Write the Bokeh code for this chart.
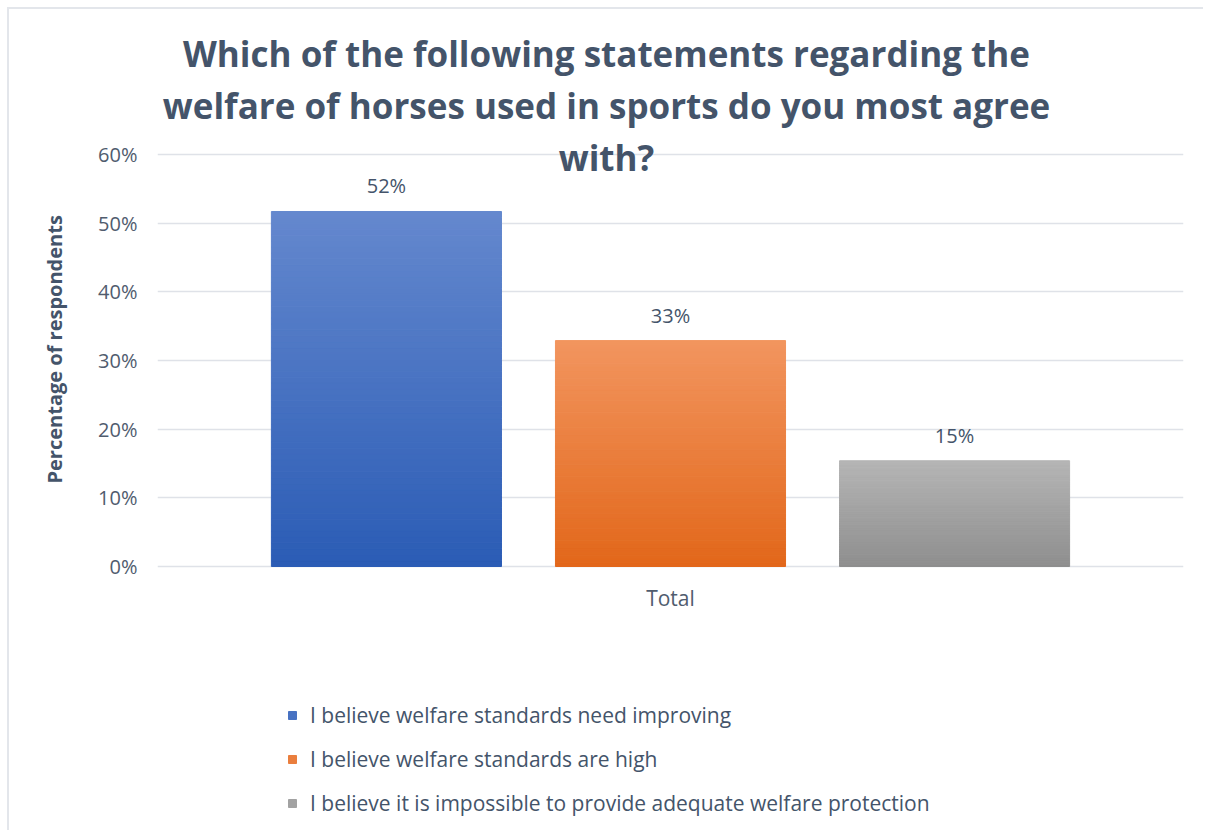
from bokeh.plotting import figure
from bokeh.models import (ColumnDataSource, Range1d, FixedTicker, PrintfTickFormatter,
                          Label, LabelSet, Legend, LegendItem, Title)
from bokeh.core.properties import value
from bokeh.embed import file_html
from bokeh.resources import INLINE

# ---- data ----
series = ["I believe welfare standards need improving",
          "I believe welfare standards are high",
          "I believe it is impossible to provide adequate welfare protection"]
values = [51.7, 32.9, 15.4]          # percentage of respondents
category = "Total"
y_ticks = [0, 10, 20, 30, 40, 50, 60]
title_lines = ["Which of the following statements regarding the",
               "welfare of horses used in sports do you most agree",
               "with?"]
y_label = "Percentage of respondents"

# ---- styles ----
top_colors = ["#6488CE", "#F2955F", "#B5B5B5"]
bottom_colors = ["#2B5CB5", "#E2671A", "#8E8E8E"]
FONT = "Open Sans"
TXT = "#44546A"
TICK = "#505C6E"
N = 60

def hex2rgb(h):
    h = h.lstrip("#")
    return tuple(int(h[i:i + 2], 16) for i in (0, 2, 4))

def mix(c1, c2, t):
    a, b = hex2rgb(c1), hex2rgb(c2)
    return "#%02x%02x%02x" % tuple(round(a[k] + (b[k] - a[k]) * t) for k in range(3))

# the frame covers the full canvas height; 0..60% spans 412px of it
PX = 412 / 60
H = 823
ZERO_FROM_TOP = 557
y_start = -(H - ZERO_FROM_TOP) / PX
y_end = ZERO_FROM_TOP / PX

p = figure(width=1196, height=H, output_backend="svg", toolbar_location=None,
           x_range=Range1d(-0.806, 2.806), y_range=Range1d(y_start, y_end),
           min_border_left=148, min_border_right=22, min_border_top=0,
           min_border_bottom=0)
p.margin = (7, 0, 0, 7)
p.styles = {"border-top": "2px solid #E3E6EB", "border-left": "2px solid #E3E6EB"}
p.outline_line_color = None
p.background_fill_color = "white"
p.border_fill_color = "white"

p.xgrid.visible = False
p.ygrid.grid_line_color = "#DFE2E8"
p.ygrid.grid_line_width = 1.5

# axes
p.yaxis.ticker = FixedTicker(ticks=y_ticks)
p.yaxis.formatter = PrintfTickFormatter(format="%d%%")
p.yaxis.axis_line_color = None
p.yaxis.major_tick_line_color = None
p.yaxis.minor_tick_line_color = None
p.yaxis.major_tick_out = 0
p.yaxis.major_tick_in = 0
p.yaxis.major_label_standoff = 20
p.yaxis.major_label_text_font = FONT
p.yaxis.major_label_text_font_size = "20px"
p.yaxis.major_label_text_color = TICK

p.add_layout(Title(text=y_label, align="left", offset=349, standoff=56,
                   text_font=FONT, text_font_style="bold",
                   text_font_size="20px", text_color=TXT), "left")

p.xaxis.fixed_location = 0
p.xaxis.ticker = FixedTicker(ticks=[1])
p.xaxis.major_label_overrides = {1: category}
p.xaxis.axis_line_color = None
p.xaxis.major_tick_line_color = None
p.xaxis.minor_tick_line_color = None
p.xaxis.major_tick_out = 0
p.xaxis.major_tick_in = 0
p.xaxis.major_label_standoff = 17
p.xaxis.major_label_text_font = FONT
p.xaxis.major_label_text_font_size = "21px"
p.xaxis.major_label_text_color = TICK

# bars with vertical gradient (slices of each bar)
items = []
for i, (name, v) in enumerate(zip(series, values)):
    bottoms = [v * k / N for k in range(N)]
    tops = [v * (k + 1) / N for k in range(N)]
    cols = [mix(bottom_colors[i], top_colors[i], (k + 0.5) / N) for k in range(N)]
    src = ColumnDataSource(dict(x=[i] * N, bottom=bottoms, top=tops, color=cols))
    r = p.vbar(x="x", bottom="bottom", top="top", width=0.81, source=src,
               fill_color="color", line_color="color", line_width=1)
    items.append(LegendItem(label=name, renderers=[r], index=N // 2))

# data labels
lab_src = ColumnDataSource(dict(x=list(range(len(values))), y=values,
                                txt=["%d%%" % round(v) for v in values]))
p.add_layout(LabelSet(x="x", y="y", text="txt", source=lab_src, y_offset=18,
                      text_align="center", text_baseline="alphabetic",
                      text_font=value(FONT), text_font_size=value("20px"),
                      text_color=TXT))

# title lines (screen units from the frame's bottom-left)
for line, yb in zip(title_lines, [779, 727, 675]):
    p.add_layout(Label(x=449, y=yb, x_units="screen", y_units="screen", text=line,
                       text_align="center", text_baseline="alphabetic",
                       text_font=FONT, text_font_style="bold",
                       text_font_size="35px", text_color=TXT))

legend = Legend(items=items, location=(130, 15), orientation="vertical",
                glyph_width=10, glyph_height=10, label_height=20, spacing=16,
                label_standoff=13, padding=0, margin=0,
                label_text_font=FONT, label_text_font_size="21px",
                label_text_color=TXT, border_line_color=None,
                background_fill_alpha=0)
p.add_layout(legend)

open("out.html", "w").write(file_html(p, INLINE))
